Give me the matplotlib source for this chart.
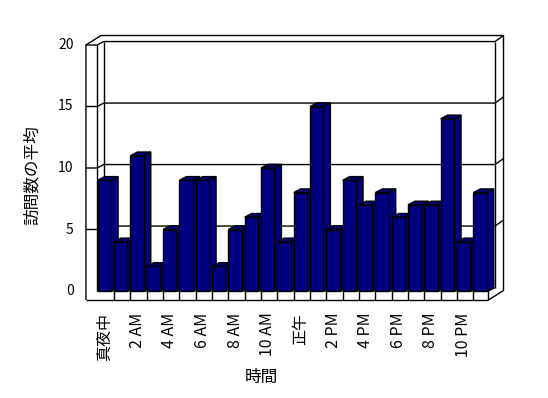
import matplotlib
matplotlib.use("Agg")
import matplotlib.pyplot as plt
from matplotlib.patches import Polygon

plt.rcParams['font.family'] = ['Noto Sans CJK JP', 'DejaVu Sans']

# data
hours = list(range(24))
visits = [9, 4, 11, 2, 5, 9, 9, 2, 5, 6, 10, 4, 8, 15, 5, 9, 7, 8, 6, 7, 7, 14, 4, 8]
tick_labels = ['真夜中', '2 AM', '4 AM', '6 AM', '8 AM', '10 AM',
               '正午', '2 PM', '4 PM', '6 PM', '8 PM', '10 PM']
y_ticks = [0, 5, 10, 15, 20]

bar_color = '#000080'
W, H = 548, 398
slot_px, unit_px = 16.33, 12.3   # pixels per category / per value unit
x0_px, y0_px = 97.7, 291.0       # where category 0 / value 0 sit

fig = plt.figure(figsize=(W / 100, H / 100), dpi=100)
ax = fig.add_axes([0, 0, 1, 1])
ax.set_xlim(-x0_px / slot_px, (W - x0_px) / slot_px)
ax.set_ylim((y0_px - H) / unit_px, y0_px / unit_px)
ax.axis('off')

ymax = 20
bw = 0.82             # bar front width
bdx, bdy = 0.43, 0.3  # bar depth
dx, dy = 0.40, 0.28   # inner depth (to back wall)
Dx, Dy = 0.92, 0.77   # outer depth
wl, wr = -0.72, -0.03 # left wall outer / inner
fr = 23.93            # floor right at front
fb = -0.73            # floor bottom

lk = dict(color='black', lw=1, solid_capstyle='butt')

# gridlines wrapping over walls
for v in y_ticks[1:]:
    ax.plot([wl, wr, wr + dx, fr + dx, fr + Dx], [v, v, v + dy, v + dy, v + Dy], **lk)
    ax.text(wl - 0.75, v, str(v), ha='right', va='center', fontsize=10)
ax.text(wl - 0.75, 0, '0', ha='right', va='center', fontsize=10)

# outer frame
ax.plot([wl, wl, wl + Dx, fr + Dx, fr + Dx, fr, fr], [fb, ymax, ymax + Dy, ymax + Dy, fb + Dy, fb, 0], **lk)
ax.plot([wr, wr], [0, ymax], **lk)
ax.plot([fr + dx, fr + dx], [dy, ymax + dy], **lk)
ax.plot([wr + dx, wr + dx], [dy, ymax + dy], **lk)
ax.plot([wr, fr, fr + dx], [0, 0, dy], **lk)
ax.plot([wl, fr], [fb, fb], **lk)
for k in range(1, 24):
    ax.plot([k, k], [fb, 0], **lk)

# bars
for i, v in zip(hours, visits):
    z = 3 + i * 0.01
    side = [(i + bw, 0), (i + bw + bdx, bdy), (i + bw + bdx, v + bdy), (i + bw, v)]
    top = [(i, v), (i + bw, v), (i + bw + bdx, v + bdy), (i + bdx, v + bdy)]
    for pts in (side, top):
        ax.add_patch(Polygon(pts, closed=True, facecolor=bar_color, edgecolor='black', lw=1, zorder=z))
    ax.add_patch(Polygon([(i, 0), (i + bw, 0), (i + bw, v), (i, v)], closed=True,
                         facecolor=bar_color, edgecolor='black', lw=1, zorder=z + 0.001))

# category labels
for j, lab in enumerate(tick_labels):
    ax.text(2 * j + bw / 2, -1.75, lab, rotation=90, ha='center', va='top', fontsize=11.5)

ax.text(10.0, -7.0, '時間', ha='center', va='center', fontsize=12)
ax.text(-4.0, 9.4, '訪問数の平均', rotation=90, ha='center', va='center', fontsize=12)

fig.savefig('out.png', dpi=100)
